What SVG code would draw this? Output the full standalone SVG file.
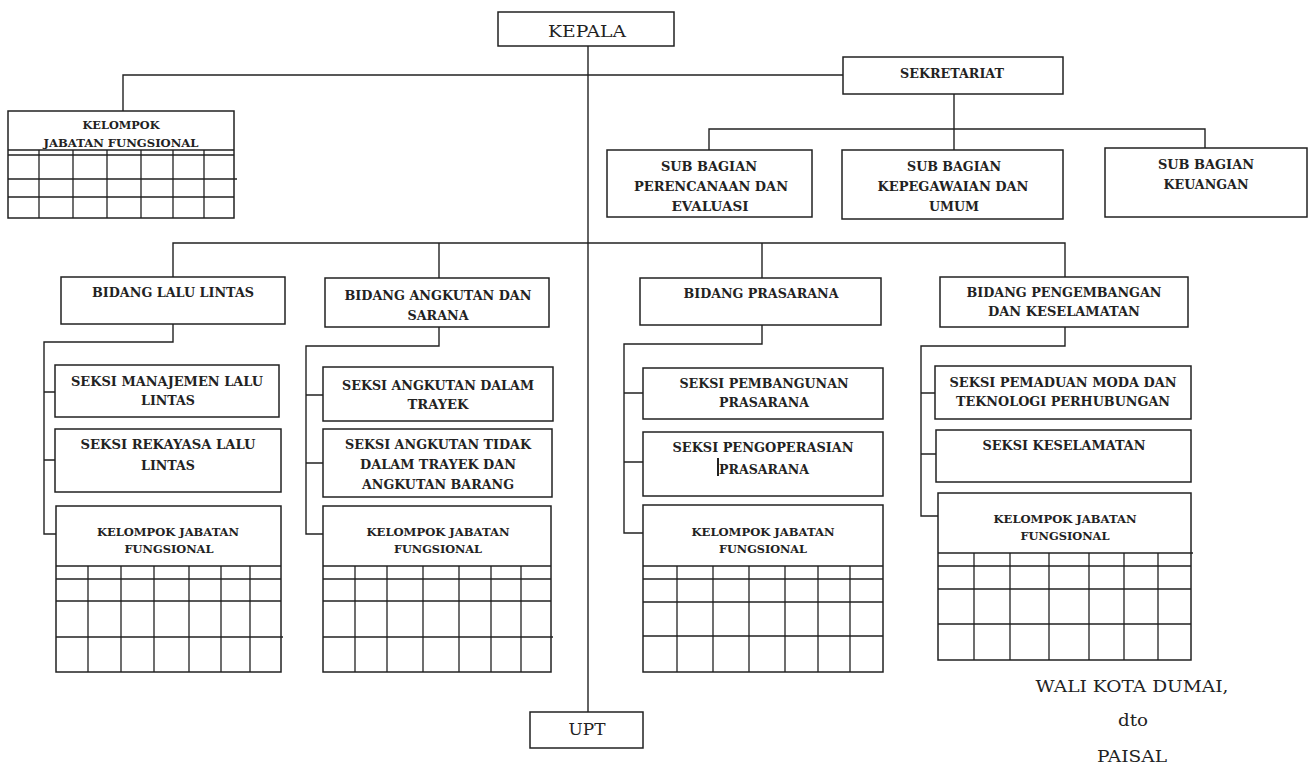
<svg xmlns="http://www.w3.org/2000/svg" width="1310" height="765" viewBox="0 0 1310 765">
<style>
  .box { fill: #fff; stroke: #222; stroke-width: 1.5; }
  .ln { fill: none; stroke: #222; stroke-width: 1.4; }
  .tl { fill: none; stroke: #222; stroke-width: 1.3; }
  .t { font-family: "DejaVu Serif", "Liberation Serif", serif; font-weight: bold; font-size: 12.5px; fill: #222; text-anchor: middle; }
  .s { font-size: 11px; }
  .r { font-weight: normal; font-size: 17px; }
</style>
<rect width="1310" height="765" fill="#fff"/>
<g id="connectors">
  <path class="ln" d="M588 46 V712"/>
  <path class="ln" d="M123 111 V75 H843"/>
  <path class="ln" d="M954 94 V150"/>
  <path class="ln" d="M709 150 V129 H1205 V148"/>
  <path class="ln" d="M173 277 V243 H1065 V277"/>
  <path class="ln" d="M439 243 V278"/>
  <path class="ln" d="M762 243 V278"/>
  <path class="ln" d="M173 324 V342 H44 V534 H56"/>
  <path class="ln" d="M44 392 H55 M44 460 H55"/>
  <path class="ln" d="M439 327 V346 H306 V534 H323"/>
  <path class="ln" d="M306 395 H323 M306 463 H323"/>
  <path class="ln" d="M762 325 V344 H624 V533 H643"/>
  <path class="ln" d="M624 393 H643 M624 462 H646"/>
  <path class="ln" d="M1065 327 V346 H921 V516 H938"/>
  <path class="ln" d="M921 393 H935 M921 454 H936"/>
</g>
<g id="kepala">
  <rect class="box" x="498" y="12" width="176" height="34"/>
  <text class="t r" x="587" y="37" textLength="78" lengthAdjust="spacingAndGlyphs">KEPALA</text>
</g>
<g id="kelompok-jf">
  <rect class="box" x="8" y="111" width="226" height="107"/>
  <path class="tl" d="M8 150 H234 M8 155 H234 M8 179 H237 M8 197 H234"/>
  <path class="tl" d="M39 150 V218 M73 150 V218 M107 150 V218 M141 150 V218 M173 150 V218 M204 150 V218"/>
  <text class="t s" x="121" y="129" textLength="77" lengthAdjust="spacingAndGlyphs">KELOMPOK</text>
  <text class="t s" x="121" y="147" textLength="155" lengthAdjust="spacingAndGlyphs">JABATAN FUNGSIONAL</text>
</g>
<g id="sekretariat">
  <rect class="box" x="843" y="57" width="220" height="37"/>
  <text class="t" x="952" y="78" textLength="104" lengthAdjust="spacingAndGlyphs">SEKRETARIAT</text>
</g>
<g id="subbag-perencanaan">
  <rect class="box" x="607" y="150" width="205" height="67"/>
  <text class="t" x="709" y="171" textLength="96" lengthAdjust="spacingAndGlyphs">SUB BAGIAN</text>
  <text class="t" x="711" y="191" textLength="154" lengthAdjust="spacingAndGlyphs">PERENCANAAN DAN</text>
  <text class="t" x="710" y="211" textLength="77" lengthAdjust="spacingAndGlyphs">EVALUASI</text>
</g>
<g id="subbag-kepegawaian">
  <rect class="box" x="842" y="150" width="221" height="69"/>
  <text class="t" x="954" y="171" textLength="94" lengthAdjust="spacingAndGlyphs">SUB BAGIAN</text>
  <text class="t" x="953" y="191" textLength="151" lengthAdjust="spacingAndGlyphs">KEPEGAWAIAN DAN</text>
  <text class="t" x="954" y="211" textLength="50" lengthAdjust="spacingAndGlyphs">UMUM</text>
</g>
<g id="subbag-keuangan">
  <rect class="box" x="1105" y="148" width="202" height="69"/>
  <text class="t" x="1206" y="169" textLength="96" lengthAdjust="spacingAndGlyphs">SUB BAGIAN</text>
  <text class="t" x="1206" y="189" textLength="85" lengthAdjust="spacingAndGlyphs">KEUANGAN</text>
</g>
<g id="bidang-lalu-lintas">
  <rect class="box" x="61" y="277" width="224" height="47"/>
  <text class="t" x="173" y="297" textLength="162" lengthAdjust="spacingAndGlyphs">BIDANG LALU LINTAS</text>
</g>
<g id="seksi-manajemen">
  <rect class="box" x="55" y="365" width="224" height="52"/>
  <text class="t" x="167" y="386" textLength="192" lengthAdjust="spacingAndGlyphs">SEKSI MANAJEMEN LALU</text>
  <text class="t" x="168" y="405" textLength="54" lengthAdjust="spacingAndGlyphs">LINTAS</text>
</g>
<g id="seksi-rekayasa">
  <rect class="box" x="55" y="429" width="226" height="63"/>
  <text class="t" x="168" y="449" textLength="175" lengthAdjust="spacingAndGlyphs">SEKSI REKAYASA LALU</text>
  <text class="t" x="168" y="470" textLength="54" lengthAdjust="spacingAndGlyphs">LINTAS</text>
</g>
<g id="kjf-lalu-lintas">
  <rect class="box" x="56" y="506" width="225" height="166"/>
  <path class="tl" d="M56 566 H281 M56 579 H281 M56 601 H281 M56 637 H283"/>
  <path class="tl" d="M88 566 V672 M121 566 V672 M154 566 V672 M189 566 V672 M221 566 V672 M250 566 V672"/>
  <text class="t s" x="168" y="536" textLength="142" lengthAdjust="spacingAndGlyphs">KELOMPOK JABATAN</text>
  <text class="t s" x="169" y="553" textLength="89" lengthAdjust="spacingAndGlyphs">FUNGSIONAL</text>
</g>
<g id="bidang-angkutan">
  <rect class="box" x="325" y="278" width="224" height="49"/>
  <text class="t" x="438" y="300" textLength="187" lengthAdjust="spacingAndGlyphs">BIDANG ANGKUTAN DAN</text>
  <text class="t" x="438" y="320" textLength="61" lengthAdjust="spacingAndGlyphs">SARANA</text>
</g>
<g id="seksi-angkutan-dalam">
  <rect class="box" x="323" y="367" width="230" height="54"/>
  <text class="t" x="438" y="390" textLength="192" lengthAdjust="spacingAndGlyphs">SEKSI ANGKUTAN DALAM</text>
  <text class="t" x="438" y="409" textLength="61" lengthAdjust="spacingAndGlyphs">TRAYEK</text>
</g>
<g id="seksi-angkutan-tidak">
  <rect class="box" x="323" y="429" width="229" height="68"/>
  <text class="t" x="438" y="449" textLength="186" lengthAdjust="spacingAndGlyphs">SEKSI ANGKUTAN TIDAK</text>
  <text class="t" x="438" y="469" textLength="156" lengthAdjust="spacingAndGlyphs">DALAM TRAYEK DAN</text>
  <text class="t" x="438" y="489" textLength="152" lengthAdjust="spacingAndGlyphs">ANGKUTAN BARANG</text>
</g>
<g id="kjf-angkutan">
  <rect class="box" x="323" y="506" width="228" height="166"/>
  <path class="tl" d="M323 566 H551 M323 579 H551 M323 601 H551 M323 637 H553"/>
  <path class="tl" d="M355 566 V672 M387 566 V672 M423 566 V672 M459 566 V672 M491 566 V672 M521 566 V672"/>
  <text class="t s" x="438" y="536" textLength="143" lengthAdjust="spacingAndGlyphs">KELOMPOK JABATAN</text>
  <text class="t s" x="438" y="553" textLength="88" lengthAdjust="spacingAndGlyphs">FUNGSIONAL</text>
</g>
<g id="bidang-prasarana">
  <rect class="box" x="640" y="278" width="241" height="47"/>
  <text class="t" x="761" y="298" textLength="155" lengthAdjust="spacingAndGlyphs">BIDANG PRASARANA</text>
</g>
<g id="seksi-pembangunan">
  <rect class="box" x="643" y="368" width="240" height="51"/>
  <text class="t" x="764" y="388" textLength="169" lengthAdjust="spacingAndGlyphs">SEKSI PEMBANGUNAN</text>
  <text class="t" x="764" y="407" textLength="90" lengthAdjust="spacingAndGlyphs">PRASARANA</text>
</g>
<g id="seksi-pengoperasian">
  <rect class="box" x="643" y="432" width="240" height="64"/>
  <text class="t" x="763" y="452" textLength="181" lengthAdjust="spacingAndGlyphs">SEKSI PENGOPERASIAN</text>
  <text class="t" x="764" y="474" textLength="90" lengthAdjust="spacingAndGlyphs">PRASARANA</text>
  <line x1="718" y1="458" x2="718" y2="476" stroke="#222" stroke-width="2"/>
</g>
<g id="kjf-prasarana">
  <rect class="box" x="643" y="505" width="240" height="167"/>
  <path class="tl" d="M643 566 H883 M643 579 H883 M643 602 H883 M643 636 H883"/>
  <path class="tl" d="M677 566 V672 M713 566 V672 M749 566 V672 M785 566 V672 M818 566 V672 M850 566 V672"/>
  <text class="t s" x="763" y="536" textLength="143" lengthAdjust="spacingAndGlyphs">KELOMPOK JABATAN</text>
  <text class="t s" x="763" y="553" textLength="88" lengthAdjust="spacingAndGlyphs">FUNGSIONAL</text>
</g>
<g id="bidang-pengembangan">
  <rect class="box" x="940" y="277" width="248" height="50"/>
  <text class="t" x="1064" y="297" textLength="195" lengthAdjust="spacingAndGlyphs">BIDANG PENGEMBANGAN</text>
  <text class="t" x="1064" y="316" textLength="152" lengthAdjust="spacingAndGlyphs">DAN KESELAMATAN</text>
</g>
<g id="seksi-pemaduan">
  <rect class="box" x="935" y="366" width="256" height="53"/>
  <text class="t" x="1063" y="387" textLength="227" lengthAdjust="spacingAndGlyphs">SEKSI PEMADUAN MODA DAN</text>
  <text class="t" x="1063" y="406" textLength="214" lengthAdjust="spacingAndGlyphs">TEKNOLOGI PERHUBUNGAN</text>
</g>
<g id="seksi-keselamatan">
  <rect class="box" x="936" y="430" width="255" height="52"/>
  <text class="t" x="1064" y="450" textLength="163" lengthAdjust="spacingAndGlyphs">SEKSI KESELAMATAN</text>
</g>
<g id="kjf-pengembangan">
  <rect class="box" x="938" y="493" width="253" height="167"/>
  <path class="tl" d="M938 553 H1193 M938 566 H1191 M938 589 H1191 M938 624 H1191"/>
  <path class="tl" d="M974 553 V660 M1010 553 V660 M1049 553 V660 M1089 553 V660 M1124 553 V660 M1158 553 V660"/>
  <text class="t s" x="1065" y="523" textLength="143" lengthAdjust="spacingAndGlyphs">KELOMPOK JABATAN</text>
  <text class="t s" x="1065" y="540" textLength="89" lengthAdjust="spacingAndGlyphs">FUNGSIONAL</text>
</g>
<g id="upt">
  <rect class="box" x="530" y="712" width="113" height="36"/>
  <text class="t r" x="587" y="735" textLength="37" lengthAdjust="spacingAndGlyphs">UPT</text>
</g>
<g id="signature">
  <text class="t r" x="1132" y="692" textLength="193" lengthAdjust="spacingAndGlyphs">WALI KOTA DUMAI,</text>
  <text class="t r" x="1133" y="726" textLength="30" lengthAdjust="spacingAndGlyphs">dto</text>
  <text class="t r" x="1132" y="762" textLength="70" lengthAdjust="spacingAndGlyphs">PAISAL</text>
</g>
</svg>
